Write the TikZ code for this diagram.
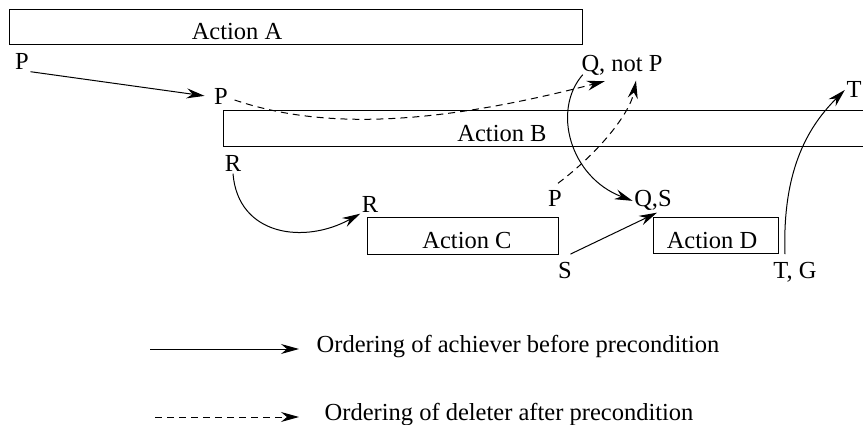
\documentclass[tikz,border=0pt]{standalone}
\usepackage{fontspec}
\setmainfont{Liberation Serif}
\usepackage{tikz}
\usetikzlibrary{arrows.meta,calc}
\tikzset{
action/.style={draw=black,line width=1pt,rectangle,inner sep=0pt},
cond/.style={inner sep=1.5pt,anchor=base},
achiever/.style={line width=1pt,-{Stealth[length=18pt,width=10pt,inset=6pt]}},
deleter/.style={achiever,dash pattern=on 7pt off 5pt},
}

\begin{document}
\begin{tikzpicture}[x=1pt,y=-1pt,font=\fontsize{24.5}{29}\selectfont]
\clip (0,0) rectangle (863,425);
\node[action,minimum width=573pt,minimum height=35pt] (A) at (295.5,27.5) {};
\node[action,minimum width=680pt,minimum height=36pt] (B) at (563,129) {};
\node[action,minimum width=191pt,minimum height=36pt] (C) at (462.5,236) {};
\node[action,minimum width=125pt,minimum height=35pt] (D) at (715.5,235.5) {};
\node[cond] (Atxt) at (237,40) {Action A};
\node[cond] (Btxt) at (502,142) {Action B};
\node[cond] (Ctxt) at (467,248) {Action C};
\node[cond] (Dtxt) at (712,248) {Action D};
\node[cond] (pA) at (22,70) {P};
\node[cond] (pB) at (221,105) {P};
\node[cond] (qnp) at (622,72) {Q, not P};
\node[cond] (rB) at (233,172) {R};
\node[cond] (rC) at (370,212) {R};
\node[cond] (pC) at (555,207) {P};
\node[cond] (QS) at (653,207) {Q,S};
\node[cond] (sC) at (565,278) {S};
\node[cond] (TG) at (795,278) {T, G};
\node[cond] (T) at (854,98) {T};
\draw[achiever,shorten >=8pt] (pA.south east) -- (pB.west);
\draw[deleter] ($(pB.east)+(5,3)$) .. controls +(80,27) and +(-185,48) .. ($(qnp.south west)+(25,3.5)$);
\draw[achiever] ($(qnp.south west)+(3,-3)$) .. controls +(-31,35) and +(-63,-24) .. (QS.west);
\draw[deleter] ($(pC.north)+(3,-6)$) .. controls +(40,-30) and +(-6,33) .. ($(qnp.south)+(14,3)$);
\draw[achiever] (rB.south) .. controls +(5,62) and +(-56,31) .. (rC.south west);
\draw[achiever] ($(sC.north east)+(-3,-6)$) -- ($(QS.south)+(4,0)$);
\draw[achiever] ($(TG.north)+(-10,-6)$) .. controls +(-3,-88) and +(-34,34) .. (T.west);
\coordinate (achFrom) at (150,349);
\coordinate (delFrom) at (155,417);
\node[cond,anchor=base west] (achTxt) at (315,352) {Ordering of achiever before precondition};
\node[cond,anchor=base west] (delTxt) at (323,420) {Ordering of deleter after precondition};
\draw[achiever,shorten >=16pt] (achFrom) -- (achTxt.west |- achFrom);
\draw[deleter,shorten >=24pt] (delFrom) -- (delTxt.west |- delFrom);
\end{tikzpicture}
\end{document}
